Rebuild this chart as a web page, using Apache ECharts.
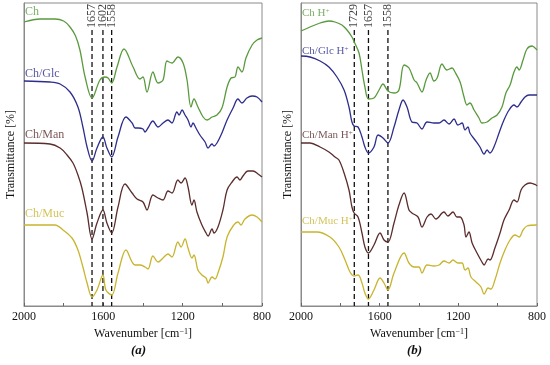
<!DOCTYPE html>
<html><head><meta charset="utf-8">
<script src="https://cdn.jsdelivr.net/npm/echarts@6/dist/echarts.min.js"></script>
<style>html,body{margin:0;padding:0;background:#fff}#c{width:550px;height:365px}</style>
</head><body><div id="c"></div>
<script>
// ---- data: [wavenumber cm^-1, relative transmittance (offset, a.u.)] ----
const chA = [[2000,284],[1919,287],[1844,287],[1800,285],[1768,279],[1740,270],[1718,256],[1692,229],[1657,208],[1617,226],[1592,229],[1576,228],[1558,223],[1531,239],[1496,257],[1450,239],[1415,227],[1400,229],[1380,214],[1350,234],[1324,223],[1299,226],[1279,245],[1254,243],[1224,249],[1198,243],[1178,226],[1158,199],[1143,207],[1123,199],[1097,189],[1077,186],[1052,189],[1027,191],[1002,198],[976,219],[956,228],[936,229],[921,239],[901,234],[881,248],[850,261],[825,266],[800,268]];
const chGlcA = [[2000,225],[1869,224],[1818,222],[1768,214],[1728,199],[1703,179],[1682,159],[1657,145],[1632,158],[1602,169],[1582,158],[1558,149],[1526,169],[1486,189],[1455,183],[1440,178],[1425,178],[1400,177],[1390,174],[1375,178],[1350,185],[1324,179],[1299,183],[1274,186],[1254,183],[1229,194],[1218,191],[1203,196],[1188,191],[1173,186],[1158,179],[1148,183],[1133,178],[1113,171],[1087,164],[1072,158],[1052,162],[1042,160],[1027,163],[1002,173],[976,186],[946,198],[921,207],[901,203],[876,208],[850,210],[825,209],[800,204]];
const chManA = [[2000,163],[1869,162],[1818,158],[1783,151],[1753,143],[1728,131],[1708,118],[1682,93],[1657,67],[1632,83],[1602,96],[1582,83],[1558,73],[1526,99],[1491,122],[1455,113],[1430,107],[1400,104],[1380,96],[1350,111],[1324,108],[1299,106],[1274,115],[1254,113],[1224,126],[1208,123],[1188,128],[1173,119],[1153,101],[1143,106],[1128,94],[1103,81],[1082,73],[1072,70],[1052,77],[1042,73],[1022,79],[997,96],[976,116],[951,124],[926,129],[911,126],[896,130],[871,135],[845,135],[820,132],[800,129]];
const chMucA = [[2000,81],[1844,81],[1803,76],[1758,68],[1728,56],[1703,39],[1682,23],[1657,9],[1632,16],[1602,31],[1587,16],[1558,11],[1526,33],[1486,56],[1455,44],[1440,41],[1415,41],[1390,39],[1375,37],[1350,50],[1324,44],[1299,48],[1274,52],[1254,49],[1224,64],[1208,59],[1188,67],[1173,58],[1153,48],[1143,51],[1123,36],[1103,31],[1082,28],[1072,23],[1052,29],[1037,27],[1022,33],[997,49],[976,69],[946,80],[921,84],[906,81],[886,87],[850,91],[825,89],[800,84]];

const chB = [[2000,275],[1954,279],[1903,283],[1858,285],[1827,284],[1792,281],[1766,276],[1741,269],[1729,264],[1705,253],[1690,236],[1675,219],[1657,207],[1629,208],[1603,216],[1583,222],[1558,215],[1527,213],[1502,216],[1476,241],[1451,238],[1425,226],[1410,223],[1385,214],[1364,226],[1344,233],[1324,225],[1308,228],[1283,242],[1258,236],[1232,238],[1217,234],[1191,224],[1171,209],[1156,201],[1141,203],[1120,196],[1095,188],[1080,183],[1054,184],[1029,188],[1003,191],[978,199],[958,213],[937,221],[917,234],[902,239],[891,236],[871,246],[851,257],[825,260],[810,258],[800,256]];
const chGlcB = [[2000,250],[1954,249],[1903,245],[1858,239],[1817,229],[1781,216],[1756,199],[1741,184],[1730,180],[1710,179],[1690,169],[1675,159],[1657,153],[1629,159],[1608,171],[1583,168],[1558,163],[1527,179],[1502,196],[1481,206],[1461,199],[1436,184],[1410,183],[1385,177],[1359,184],[1324,183],[1298,183],[1273,186],[1247,182],[1222,187],[1202,181],[1181,183],[1166,176],[1151,179],[1141,173],[1115,166],[1090,159],[1069,152],[1054,156],[1039,153],[1019,159],[993,173],[968,186],[942,196],[917,201],[902,199],[881,204],[861,209],[841,211],[800,211]];
const chManB = [[2000,163],[1954,163],[1903,159],[1858,154],[1827,149],[1807,146],[1781,133],[1756,116],[1741,99],[1730,93],[1710,89],[1690,73],[1675,59],[1657,53],[1629,61],[1598,73],[1578,66],[1558,64],[1527,83],[1502,101],[1476,113],[1451,96],[1436,93],[1405,89],[1385,79],[1359,89],[1339,92],[1314,87],[1273,94],[1253,90],[1227,94],[1207,89],[1191,89],[1171,81],[1161,69],[1146,74],[1130,63],[1105,53],[1080,44],[1069,41],[1049,47],[1039,46],[1014,58],[988,73],[968,86],[942,96],[917,106],[902,104],[881,116],[861,121],[836,123],[805,121],[800,120]];
const chMucB = [[2000,74],[1919,74],[1853,69],[1807,59],[1776,46],[1751,34],[1730,30],[1710,31],[1690,23],[1675,13],[1657,7],[1629,16],[1598,28],[1578,23],[1558,16],[1527,33],[1476,53],[1451,43],[1425,39],[1400,39],[1385,33],[1359,41],[1324,40],[1298,41],[1273,45],[1247,43],[1227,46],[1202,43],[1181,43],[1166,36],[1151,38],[1136,29],[1110,24],[1085,19],[1069,12],[1049,18],[1034,17],[1014,26],[988,43],[963,56],[937,66],[912,71],[891,69],[871,76],[851,80],[800,81]];

const peaksA = [1657, 1602, 1558];
const peaksB = [1729, 1657, 1558];
const namesA = ['Ch', 'Ch/Glc', 'Ch/Man', 'Ch/Muc'];
const namesB = ['Ch H{s|+}', 'Ch/Glc H{s|+}', 'Ch/Man H{s|+}', 'Ch/Muc H{s|+}'];
const labelLevelA = [294, 232, 171, 92];
const labelLevelB = [293, 255, 171, 85];
const xTicks = [2000, 1600, 1200, 800];

const colors = ['#5a9a3e', '#2d2d8c', '#5a2c2c', '#c8b42e'];
const FONT = 'Liberation Serif';
const dashTop = 276, peakLabelY = 290;

const seriesA = [chA, chGlcA, chManA, chMucA];
const seriesB = [chB, chGlcB, chManB, chMucB];

function makeAxes(idx) {
  return {
    x: {
      type: 'value', gridIndex: idx, min: 800, max: 2000, interval: 200, inverse: true,
      axisLine: {show: true, lineStyle: {color: '#8a8a8a', width: 1}},
      axisTick: {show: true, inside: true, length: 3, lineStyle: {color: '#666'}},
      splitLine: {show: false},
      axisLabel: {fontFamily: FONT, fontSize: 12, color: '#111', margin: 5,
        formatter: v => xTicks.indexOf(v) >= 0 ? String(v) : ''},
      name: 'Wavenumber [cm{s|\u22121}]', nameLocation: 'middle', nameGap: 20,
      nameTextStyle: {fontFamily: FONT, fontSize: 12, color: '#111',
        rich: {s: {fontFamily: FONT, fontSize: 8, verticalAlign: 'top', lineHeight: 10, color: '#111'}}}
    },
    y: {
      type: 'value', gridIndex: idx, min: 0, max: 303,
      axisLine: {show: true, lineStyle: {color: '#8a8a8a'}},
      axisTick: {show: false}, axisLabel: {show: false}, splitLine: {show: false},
      name: 'Transmittance [%]', nameLocation: 'middle', nameGap: 7, nameRotate: 90,
      nameTextStyle: {fontFamily: FONT, fontSize: 12, color: '#111'}
    }
  };
}

const aA = makeAxes(0), aB = makeAxes(1);
const series = [];
function addPanel(idx, data, peaks, names, levels, fs) {
  data.forEach((d, i) => {
    series.push({type: 'line', xAxisIndex: idx, yAxisIndex: idx, data: d, smooth: 0.35,
      showSymbol: false, lineStyle: {color: colors[i], width: 1.3}, z: 3});
  });
  peaks.forEach(p => {
    series.push({type: 'line', xAxisIndex: idx, yAxisIndex: idx, data: [[p, dashTop], [p, 0]],
      showSymbol: false, lineStyle: {color: '#111', width: 1.3, type: [5, 3]}, z: 2});
  });
  series.push({type: 'scatter', xAxisIndex: idx, yAxisIndex: idx, symbolSize: 0, z: 5,
    data: peaks.map(p => [p, peakLabelY]),
    label: {show: true, position: 'inside', rotate: 90, formatter: o => String(o.value[0]),
      fontFamily: FONT, fontSize: 12, color: '#111'}});
  series.push({type: 'scatter', xAxisIndex: idx, yAxisIndex: idx, symbolSize: 0, z: 6,
    data: names.map((n, i) => ({value: [2000, levels[i]], name: n,
      label: {color: colors[i], rich: {s: {color: colors[i], fontSize: 7, verticalAlign: 'top', lineHeight: 8, fontFamily: FONT}}}})),
    label: {show: true, position: 'right', distance: 1,
      formatter: o => o.name, fontFamily: FONT, fontSize: fs},
    labelLayout: {hideOverlap: false},
    itemStyle: {color: 'transparent'}});
}
addPanel(0, seriesA, peaksA, namesA, labelLevelA, 12);
addPanel(1, seriesB, peaksB, namesB, labelLevelB, 11);

const chart = echarts.init(document.getElementById('c'), null, {renderer: 'canvas'});
chart.setOption({
  animation: false,
  backgroundColor: '#fff',
  grid: [
    {left: 24, right: 288, top: 3, bottom: 59, show: true, borderColor: '#8a8a8a', borderWidth: 1},
    {left: 301, right: 13, top: 3, bottom: 59, show: true, borderColor: '#8a8a8a', borderWidth: 1}
  ],
  xAxis: [aA.x, aB.x],
  yAxis: [aA.y, aB.y],
  series: series,
  graphic: [
    {type: 'text', left: 131, top: 344, style: {text: '(a)', font: 'italic bold 13px "Liberation Serif"', fill: '#111'}},
    {type: 'text', left: 407, top: 344, style: {text: '(b)', font: 'italic bold 13px "Liberation Serif"', fill: '#111'}}
  ]
});
</script></body></html>
